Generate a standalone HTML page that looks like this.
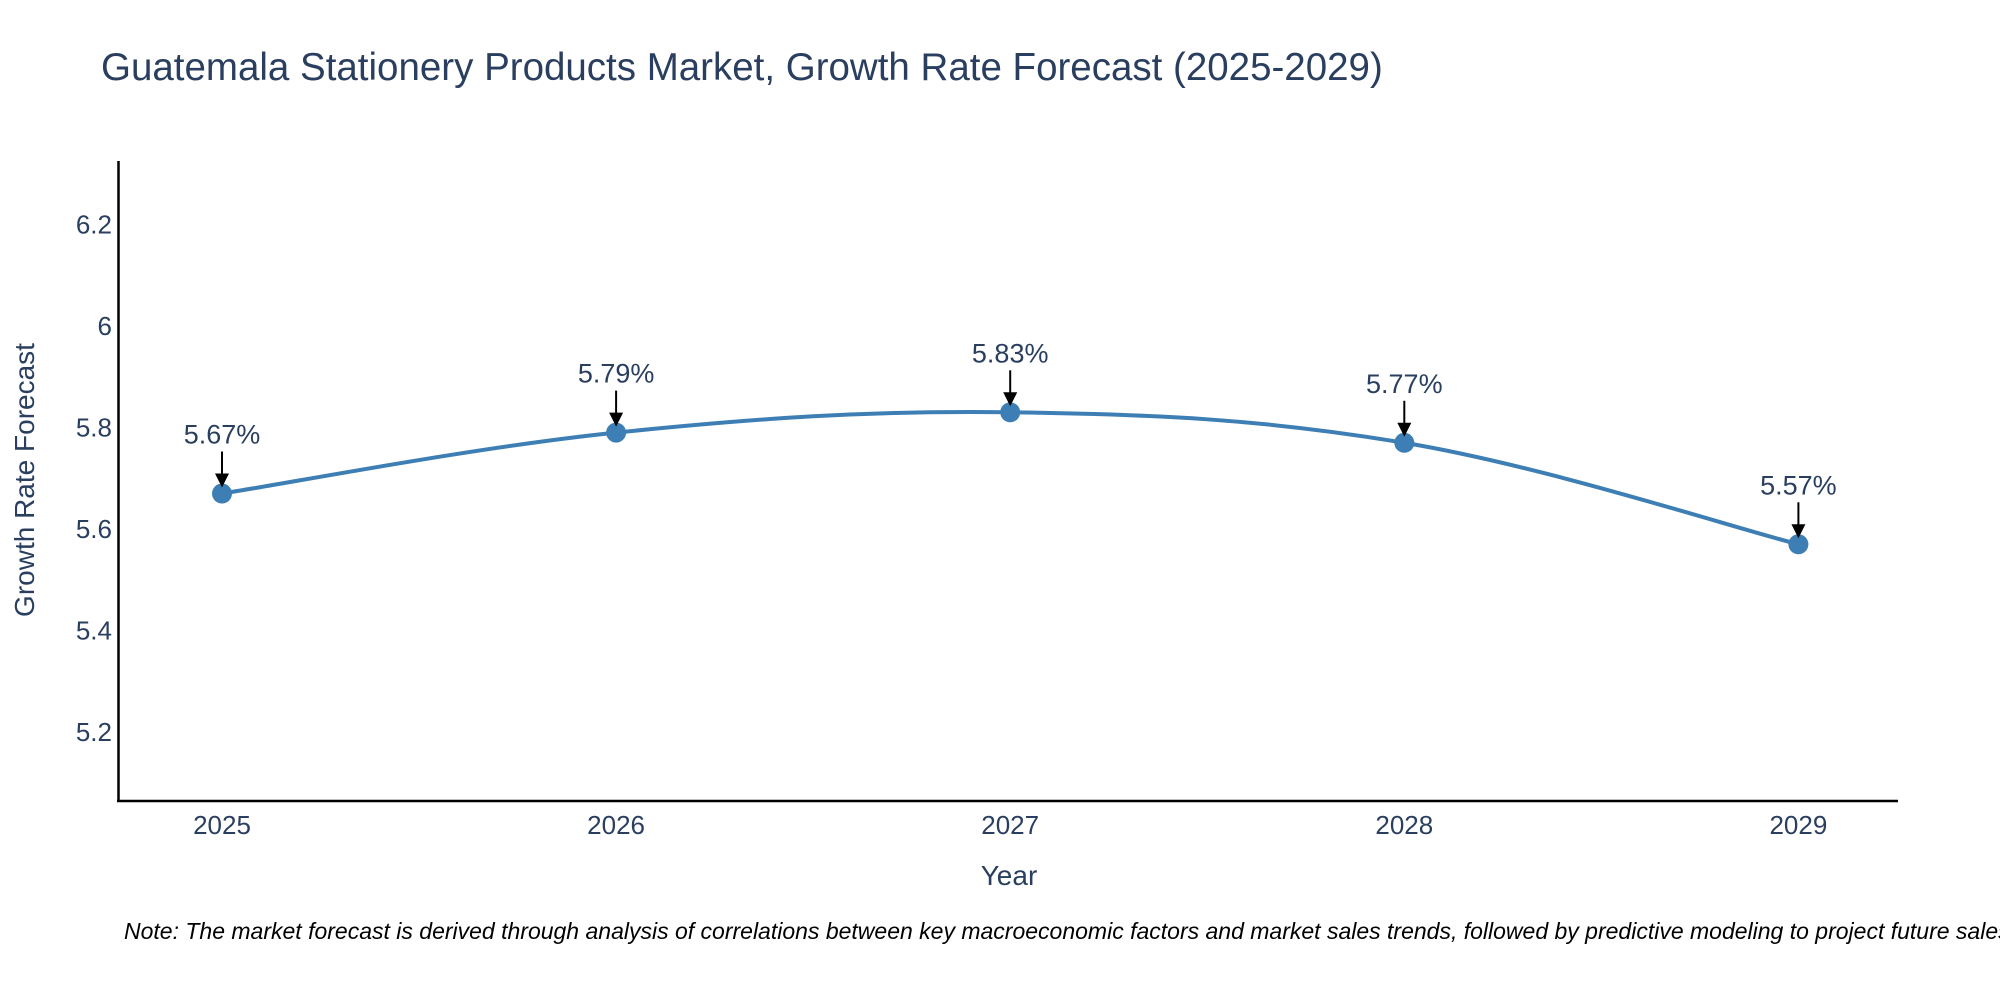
<!DOCTYPE html>
<html><head><meta charset="utf-8"><style>
html,body{margin:0;padding:0;background:#fff;}
svg text{font-family:"Liberation Sans",sans-serif;fill:#2a3f5f;}
</style></head><body>
<svg id="chart" width="2000" height="1000" xmlns="http://www.w3.org/2000/svg">
<text x="101" y="80" font-size="38.5">Guatemala Stationery Products Market, Growth Rate Forecast (2025-2029)</text>
<g id="yticks"></g><g id="xticks"></g>
<line x1="118.5" y1="161" x2="118.5" y2="802" stroke="#000" stroke-width="2.5"/>
<line x1="117" y1="801" x2="1898" y2="801" stroke="#000" stroke-width="2.5"/>
<path id="line" fill="none" stroke="#3d7fb4" stroke-width="4"/>
<g id="points"></g>
<text transform="translate(34,480) rotate(-90)" text-anchor="middle" font-size="28">Growth Rate Forecast</text>
<text x="1009" y="885" text-anchor="middle" font-size="28">Year</text>
<text x="124" y="939" font-size="23" font-style="italic" style="fill:#000">Note: The market forecast is derived through analysis of correlations between key macroeconomic factors and market sales trends, followed by predictive modeling to project future sales.</text>
</svg>
<script>
const years=["2025","2026","2027","2028","2029"];
const values=[5.67,5.79,5.83,5.77,5.57];
const labels=["5.67%","5.79%","5.83%","5.77%","5.57%"];
const yTicks=[5.2,5.4,5.6,5.8,6,6.2];
const yTickLabels=["5.2","5.4","5.6","5.8","6","6.2"];
const NS="http://www.w3.org/2000/svg";
const X=i=>222+i*394.1;
const Y=v=>224.5+(6.2-v)*507.6;
function mk(t,a,p){const e=document.createElementNS(NS,t);for(const k in a)e.setAttribute(k,a[k]);p.appendChild(e);return e;}
const yt=document.getElementById('yticks');
yTicks.forEach((v,i)=>{const t=mk('text',{x:112,y:Y(v)+9,'text-anchor':'end','font-size':'26'},yt);t.textContent=yTickLabels[i];

});
const xt=document.getElementById('xticks');
years.forEach((y,i)=>{const t=mk('text',{x:X(i),y:834,'text-anchor':'middle','font-size':'26'},xt);t.textContent=y;

});
const P=values.map((v,i)=>[X(i),Y(v)]);
let d=`M${P[0][0]},${P[0][1]}`;const s=0.18;
for(let i=0;i<P.length-1;i++){const p0=P[Math.max(0,i-1)],p1=P[i],p2=P[i+1],p3=P[Math.min(P.length-1,i+2)];
d+=` C${p1[0]+(p2[0]-p0[0])*s},${p1[1]+(p2[1]-p0[1])*s} ${p2[0]-(p3[0]-p1[0])*s},${p2[1]-(p3[1]-p1[1])*s} ${p2[0]},${p2[1]}`;}
document.getElementById('line').setAttribute('d',d);
const pg=document.getElementById('points');
P.forEach((p,i)=>{const c=mk('circle',{cx:p[0],cy:p[1],r:10,fill:'#3d7fb4'},pg);


const a=mk('line',{x1:p[0],y1:p[1]-42,x2:p[0],y2:p[1]-18,stroke:'#000','stroke-width':2},pg);


const h=mk('polygon',{points:`${p[0]-7},${p[1]-20} ${p[0]+7},${p[1]-20} ${p[0]},${p[1]-6}`,fill:'#000'},pg);


const t=mk('text',{x:p[0],y:p[1]-50,'text-anchor':'middle','font-size':'27'},pg);t.textContent=labels[i];

});
</script>
</body></html>
